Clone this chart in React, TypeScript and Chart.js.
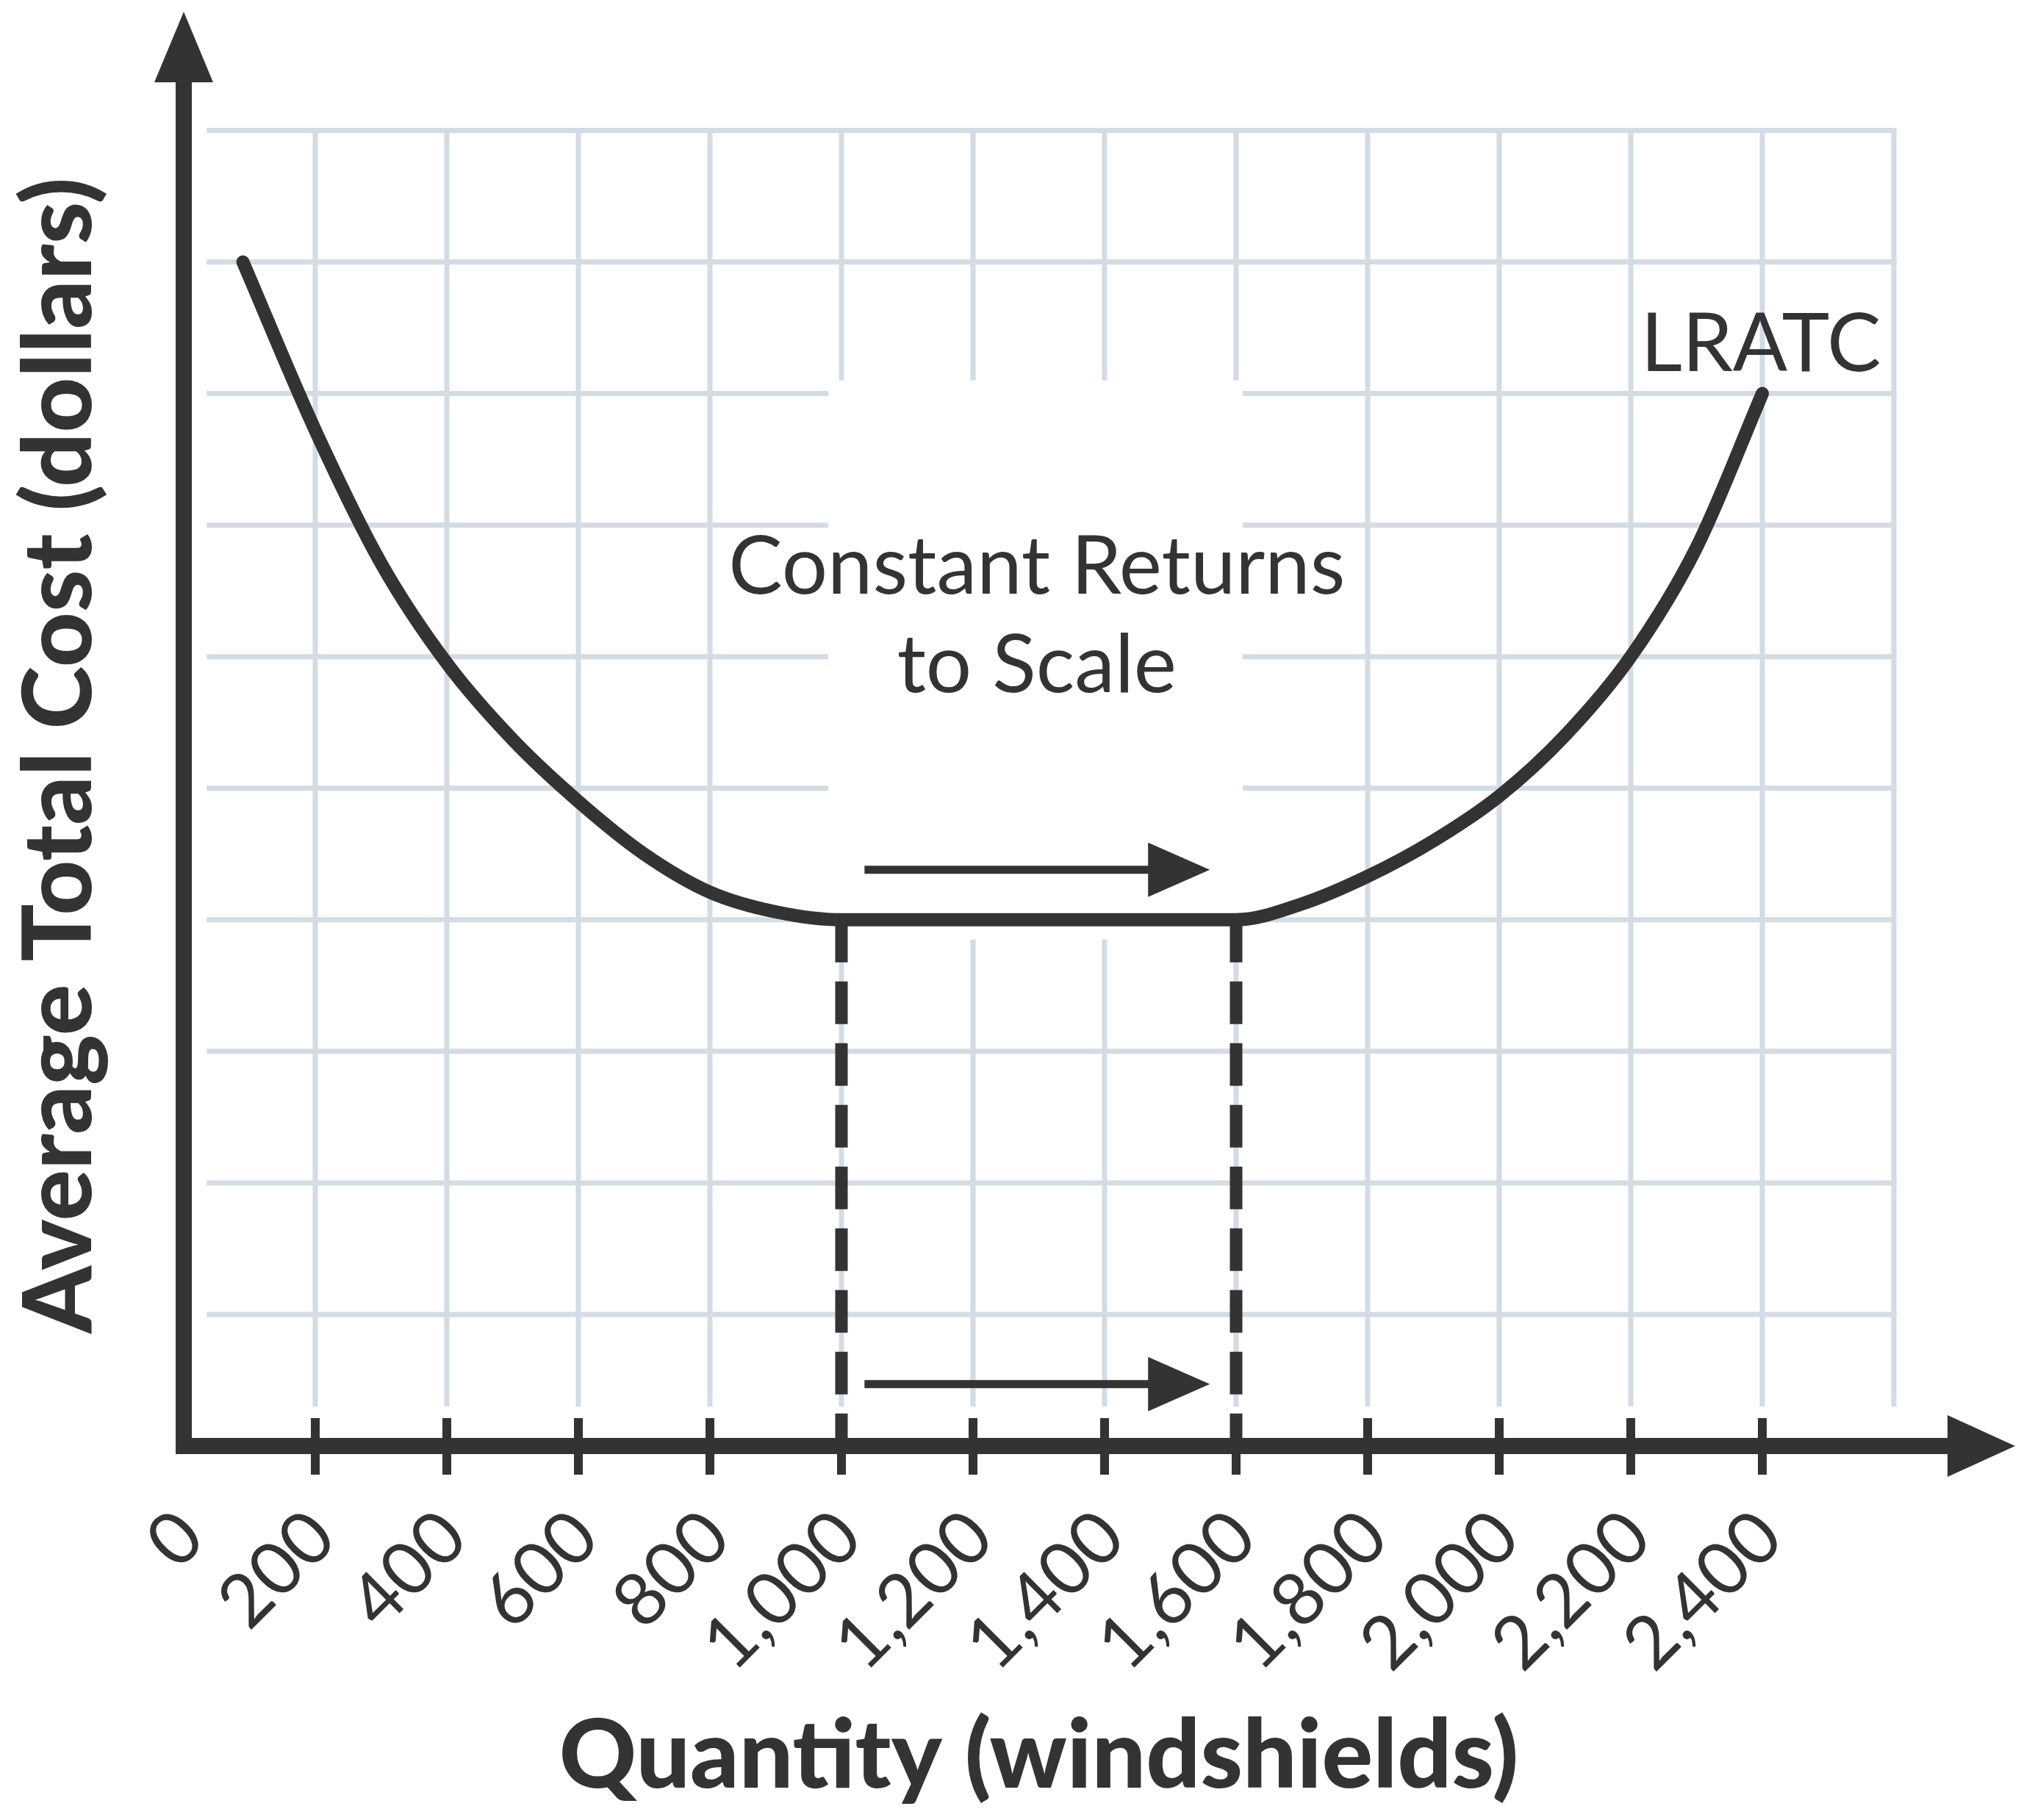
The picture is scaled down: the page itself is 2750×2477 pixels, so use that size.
import React, { useEffect, useRef } from "react";
import { Chart, registerables } from "chart.js";

Chart.register(...registerables);

// ---- data ----
const quantity = [90, 200, 300, 400, 500, 600, 700, 800, 900, 1000, 1200, 1400, 1600, 1700, 1800, 1900, 2000, 2100, 2200, 2300, 2400];
const avgTotalCost = [9.0, 7.72, 6.71, 5.95, 5.37, 4.9, 4.5, 4.21, 4.06, 4.0, 4.0, 4.0, 4.0, 4.12, 4.33, 4.6, 4.94, 5.4, 6.0, 6.83, 8.0];

const xTickValues = [0, 200, 400, 600, 800, 1000, 1200, 1400, 1600, 1800, 2000, 2200, 2400];
const xTickLabels = ["0", "200", "400", "600", "800", "1,000", "1,200", "1,400", "1,600", "1,800", "2,000", "2,200", "2,400"];

const gridXValues = [200, 400, 600, 800, 1000, 1200, 1400, 1600, 1800, 2000, 2200, 2400, 2600];
const gridYValues = [1, 2, 3, 4, 5, 6, 7, 8, 9, 10];

const constantRangeQuantity = [1000, 1600];
const constantRangeCost = 4;

const arrowStartQuantity = [1035, 1035];
const arrowEndQuantity = [1560, 1560];
const arrowCost = [4.38, 0.47];

const noteLines = ["Constant Returns", "to Scale"];
const noteQuantity = 1297;
const noteCost = [6.48, 5.73];
const curveLabel = "LRATC";
const curveLabelQuantity = 2215;
const curveLabelCost = 8.17;

const xTitle = "Quantity (windshields)";
const yTitle = "Average Total Cost (dollars)";

const INK = "#333333";
const GRID = "#d3dbe4";
const FONT = "Lato, 'Open Sans', sans-serif";

const econPlugin = {
  id: "econDecor",
  beforeDatasetsDraw(chart: any) {
    const { ctx } = chart;
    const x = chart.scales.x;
    const y = chart.scales.y;
    ctx.save();
    ctx.strokeStyle = GRID;
    ctx.lineWidth = 7;
    ctx.lineCap = "butt";
    const top = y.getPixelForValue(10) - 3.5;
    const gridBottom = y.getPixelForValue(0.3);
    for (const gx of gridXValues) {
      const px = x.getPixelForValue(gx);
      ctx.beginPath();
      ctx.moveTo(px, top);
      ctx.lineTo(px, gridBottom);
      ctx.stroke();
    }
    const gridLeft = x.getPixelForValue(35);
    const gridRight = x.getPixelForValue(2600) + 3.5;
    for (const gy of gridYValues) {
      const py = y.getPixelForValue(gy);
      ctx.beginPath();
      ctx.moveTo(gridLeft, py);
      ctx.lineTo(gridRight, py);
      ctx.stroke();
    }
    // blank panel behind the note
    const bx0 = x.getPixelForValue(980);
    const bx1 = x.getPixelForValue(1610);
    const by0 = y.getPixelForValue(8.1);
    const by1 = y.getPixelForValue(3.85);
    ctx.fillStyle = "#ffffff";
    ctx.fillRect(bx0, by0, bx1 - bx0, by1 - by0);
    ctx.restore();
  },
  afterDatasetsDraw(chart: any) {
    const { ctx } = chart;
    const x = chart.scales.x;
    const y = chart.scales.y;
    const ox = x.getPixelForValue(0);
    const oy = y.getPixelForValue(0);
    const axisW = 22;
    ctx.save();
    ctx.strokeStyle = INK;
    ctx.fillStyle = INK;
    ctx.lineCap = "butt";

    // y axis
    ctx.lineWidth = axisW;
    ctx.beginPath();
    ctx.moveTo(ox, oy + axisW / 2);
    ctx.lineTo(ox, 110);
    ctx.stroke();
    ctx.beginPath();
    ctx.moveTo(ox, 16);
    ctx.lineTo(ox - 40, 112);
    ctx.lineTo(ox + 40, 112);
    ctx.closePath();
    ctx.fill();

    // x axis
    ctx.beginPath();
    ctx.moveTo(ox - axisW / 2, oy);
    ctx.lineTo(2655, oy);
    ctx.stroke();
    ctx.beginPath();
    ctx.moveTo(2742, oy);
    ctx.lineTo(2650, oy - 42);
    ctx.lineTo(2650, oy + 42);
    ctx.closePath();
    ctx.fill();

    // tick marks crossing the x axis
    ctx.lineWidth = 12;
    for (const tv of xTickValues) {
      if (tv === 0) continue;
      const px = x.getPixelForValue(tv);
      ctx.beginPath();
      ctx.moveTo(px, oy - 38);
      ctx.lineTo(px, oy + 39);
      ctx.stroke();
    }

    // annotation arrows
    for (let i = 0; i < arrowCost.length; i++) {
      const x0 = x.getPixelForValue(arrowStartQuantity[i]);
      const x1 = x.getPixelForValue(arrowEndQuantity[i]);
      const py = y.getPixelForValue(arrowCost[i]);
      const head = 84;
      ctx.lineWidth = 11;
      ctx.beginPath();
      ctx.moveTo(x0, py);
      ctx.lineTo(x1 - head + 4, py);
      ctx.stroke();
      ctx.beginPath();
      ctx.moveTo(x1, py);
      ctx.lineTo(x1 - head, py - 37);
      ctx.lineTo(x1 - head, py + 37);
      ctx.closePath();
      ctx.fill();
    }

    // text annotations
    ctx.font = `400 110px ${FONT}`;
    ctx.textAlign = "center";
    ctx.textBaseline = "alphabetic";
    const nx = x.getPixelForValue(noteQuantity);
    noteLines.forEach((line, i) => {
      ctx.fillText(line, nx, y.getPixelForValue(noteCost[i]));
    });
    ctx.textAlign = "left";
    ctx.fillText(curveLabel, x.getPixelForValue(curveLabelQuantity), y.getPixelForValue(curveLabelCost));
    ctx.restore();
  },
};

export default function App() {
  const canvasRef = useRef<HTMLCanvasElement | null>(null);

  useEffect(() => {
    document.body.style.margin = "0";
    const canvas = canvasRef.current;
    if (!canvas) return;
    const curve = quantity.map((q, i) => ({ x: q, y: avgTotalCost[i] }));
    const dashed = constantRangeQuantity.map((q) => [
      { x: q, y: constantRangeCost },
      { x: q, y: 0 },
    ]);
    const chart = new Chart(canvas, {
      type: "line",
      data: {
        datasets: [
          {
            label: "LRATC",
            data: curve,
            borderColor: INK,
            borderWidth: 18,
            pointRadius: 0,
            cubicInterpolationMode: "monotone",
            borderCapStyle: "round",
            fill: false,
          },
          ...dashed.map((d, i) => ({
            label: `range${i}`,
            data: d,
            borderColor: INK,
            borderWidth: 17,
            borderDash: [58, 26],
            pointRadius: 0,
            tension: 0,
            fill: false,
          })),
        ],
      },
      options: {
        responsive: false,
        devicePixelRatio: 1,
        animation: false,
        layout: { padding: { top: 88, right: 173, left: 0, bottom: 0 } },
        plugins: {
          legend: { display: false },
          tooltip: { enabled: false },
        },
        scales: {
          x: {
            type: "linear",
            min: 0,
            max: 2600,
            grid: { display: false },
            border: { display: false },
            afterBuildTicks: (scale: any) => {
              scale.ticks = xTickValues.map((v) => ({ value: v }));
            },
            afterFit: (scale: any) => {
              scale.height = 509;
            },
            ticks: {
              autoSkip: false,
              minRotation: 45,
              maxRotation: 45,
              padding: 57,
              labelOffset: 10,
              color: INK,
              font: { family: FONT, size: 100, weight: "400" },
              callback: (_v: any, index: number) => xTickLabels[index],
            },
            title: {
              display: true,
              text: xTitle,
              color: INK,
              font: { family: FONT, size: 130, weight: "900" },
              padding: { top: 0, bottom: 8 },
            },
          },
          y: {
            type: "linear",
            min: 0,
            max: 10.5,
            grid: { display: false },
            border: { display: false },
            ticks: { display: false },
            afterFit: (scale: any) => {
              scale.width = 250;
            },
            title: {
              display: true,
              text: yTitle,
              color: INK,
              font: { family: FONT, size: 130, weight: "900" },
              padding: { top: 4, bottom: 0 },
            },
          },
        },
      },
      plugins: [econPlugin],
    } as any);
    return () => chart.destroy();
  }, []);

  return (
    <canvas
      ref={canvasRef}
      width={2750}
      height={2477}
      style={{ display: "block", width: 2750, height: 2477 }}
    />
  );
}
